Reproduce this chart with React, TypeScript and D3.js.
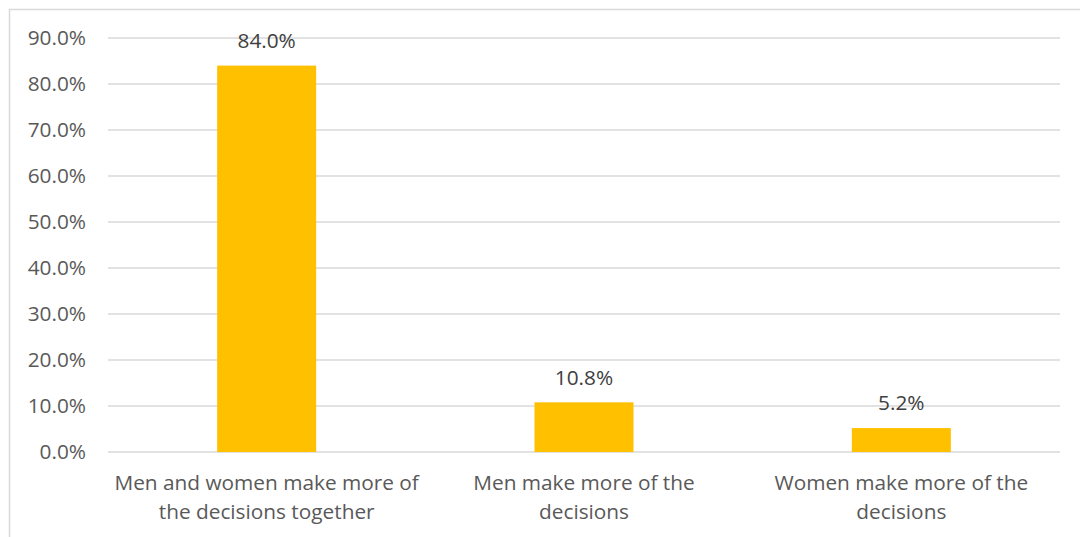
import React from "react";
import * as d3 from "d3";

const categories = [
  "Men and women make more of\nthe decisions together",
  "Men make more of the\ndecisions",
  "Women make more of the\ndecisions",
];
const values = [84.0, 10.8, 5.2];
const yTicks = [0, 10, 20, 30, 40, 50, 60, 70, 80, 90];

const W = 1080;
const H = 537;
const FONT = "'Open Sans', sans-serif";
const TEXT = "#595959";
const GRID = "#d9d9d9";
const BAR = "#FFC000";
const FS = 20.8;

export default function App() {
  const x = d3
    .scaleBand<string>()
    .domain(categories)
    .range([108, 1060])
    .paddingInner(0.688)
    .paddingOuter(0.344);
  const y = d3.scaleLinear().domain([0, 90]).range([452, 38]);
  const fmt = (v: number) => d3.format(".1f")(v) + "%";

  return (
    <svg
      width={W}
      height={H}
      style={{ position: "absolute", left: 0, top: 0, background: "#fff" }}
      fontFamily={FONT}
    >
      <rect x={9.5} y={9.5} width={W + 10} height={H + 10} fill="#fff" stroke={GRID} strokeWidth={1.5} />
      {yTicks.map((t) => (
        <g key={t}>
          <line x1={108} x2={1060} y1={y(t)} y2={y(t)} stroke={GRID} strokeWidth={1.5} />
          <text x={86} y={y(t)} dy="0.35em" textAnchor="end" fontSize={FS} fill={TEXT}>
            {fmt(t)}
          </text>
        </g>
      ))}
      {categories.map((c, i) => {
        const bx = x(c)!;
        const bw = x.bandwidth();
        const cx = bx + bw / 2;
        return (
          <g key={c}>
            <rect x={bx} y={y(values[i])} width={bw} height={y(0) - y(values[i])} fill={BAR} />
            <text x={cx} y={y(values[i]) - 25} dy="0.35em" textAnchor="middle" fontSize={FS} fill="#404040">
              {fmt(values[i])}
            </text>
            {c.split("\n").map((line, j) => (
              <text key={j} x={cx} y={483 + j * 29} dy="0.35em" textAnchor="middle" fontSize={FS} fill={TEXT}>
                {line}
              </text>
            ))}
          </g>
        );
      })}
    </svg>
  );
}
